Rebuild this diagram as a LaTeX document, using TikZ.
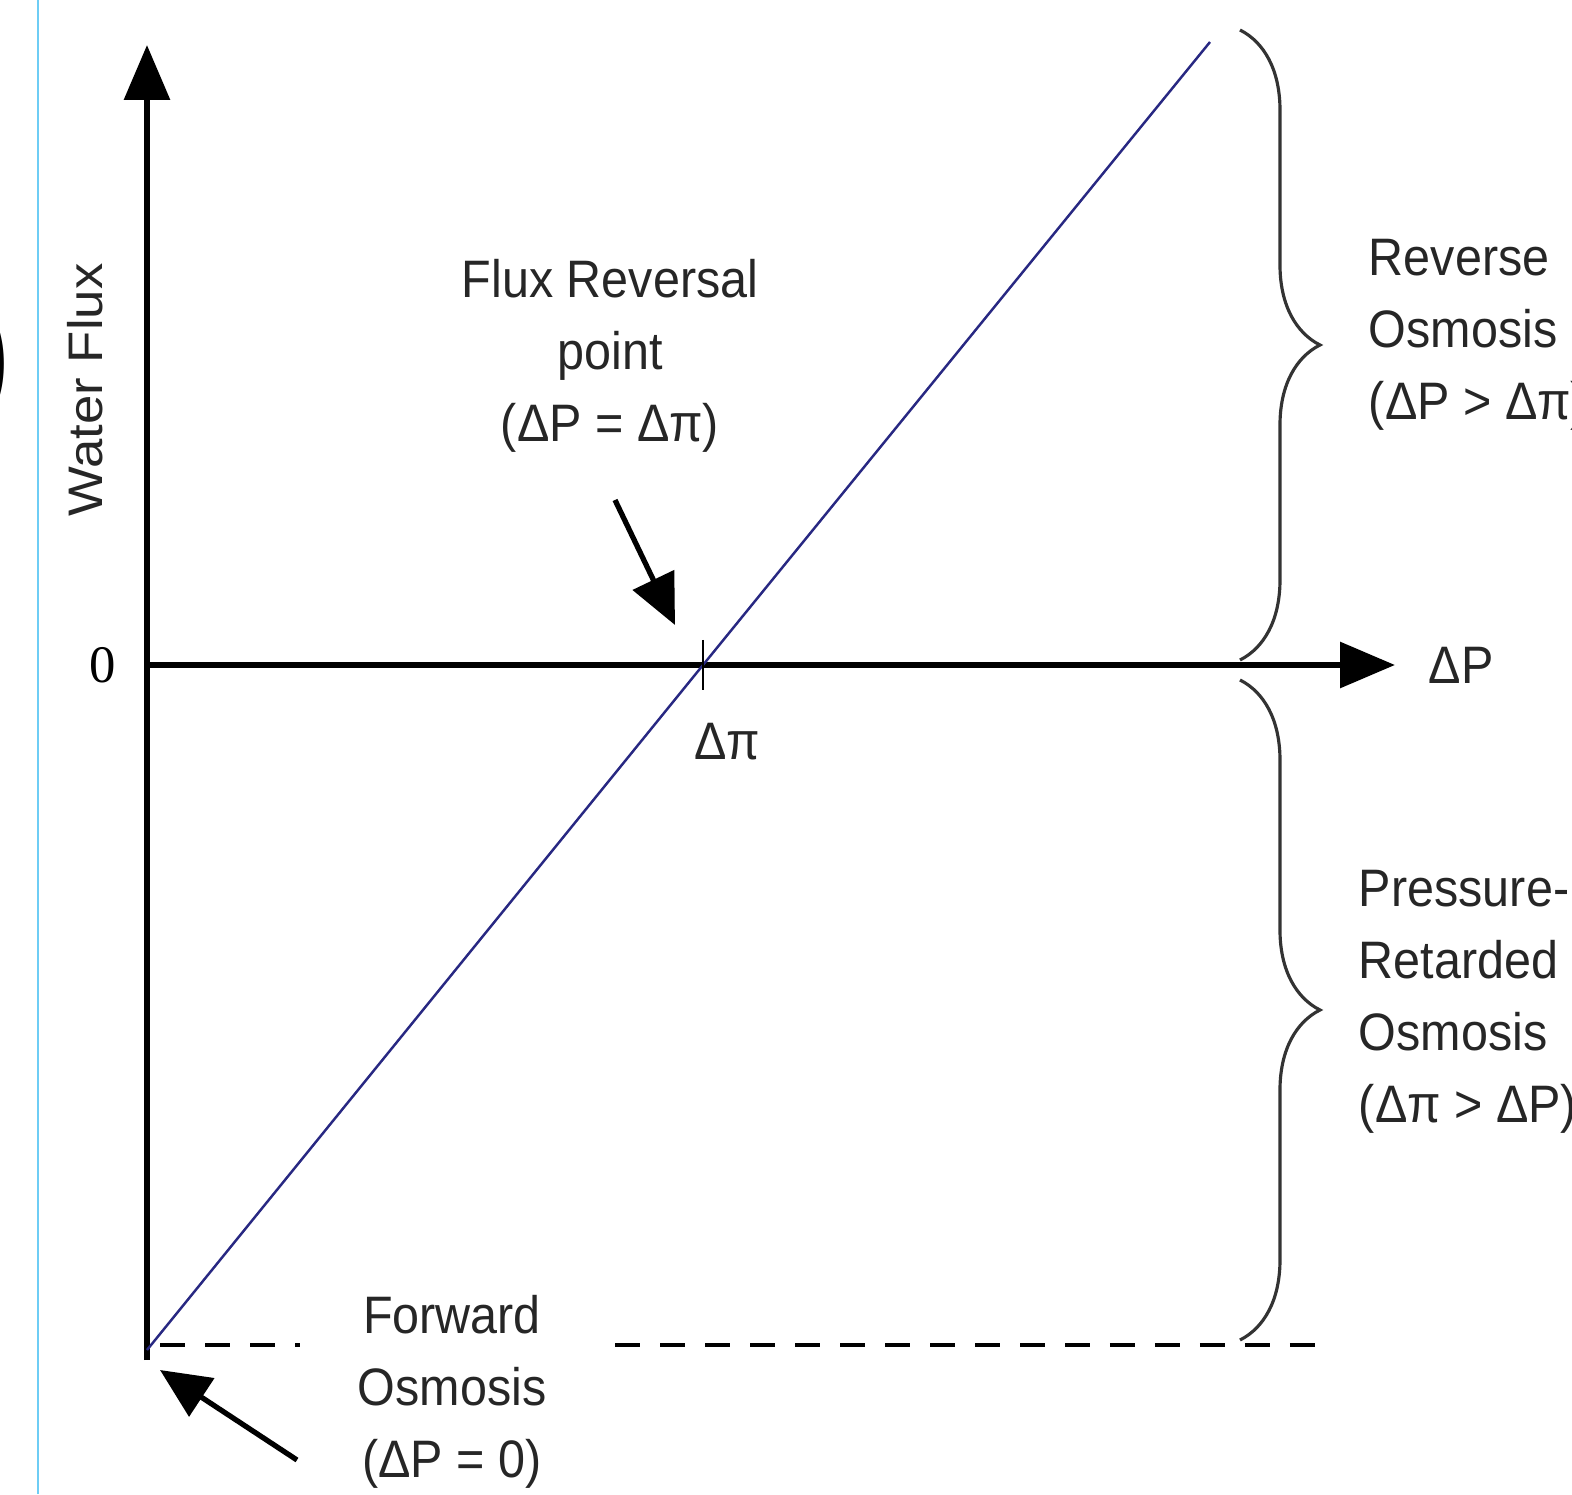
\documentclass[tikz,border=0pt]{standalone}
\usepackage{fontspec}
\setmainfont{Liberation Sans}
\newfontfamily\numfont{Liberation Serif}
\usetikzlibrary{arrows.meta,decorations.pathreplacing}
\definecolor{lineblue}{RGB}{40,40,130}
\definecolor{edgeblue}{RGB}{110,205,245}

\begin{document}
\begin{tikzpicture}[
            axis/.style = {line width=1.8pt, -{Triangle[length=0.55cm,width=0.45cm]}}, % the two axes
            pointer/.style = {line width=1.5pt, -{Triangle[length=0.5cm,width=0.45cm]}}, % the arrows onto points
            curly/.style = {decorate, decoration={brace,amplitude=0.8cm}, line width=0.9pt, draw=black!80},
            lbl/.style = {font=\fontsize{15}{20.5}\selectfont, text=black!85, inner sep=0pt, xscale=0.92},
            semithick % line style
        ]
	\useasboundingbox (0,0) rectangle (15.72,14.94);

	% frame at the left
	\draw[edgeblue, line width=0.6pt] (0.38,0) -- (0.38,14.94);
	\node[anchor=east, inner sep=0pt, font=\fontsize{40}{40}\bfseries\selectfont] (cut) at (0.12,11.3) {)};

	\coordinate (o) at (1.47,8.29);
	\coordinate (ybot) at (1.47,1.34);
	\coordinate (ytop) at (1.47,14.49);
	\coordinate (xtip) at (13.95,8.29);
	\coordinate (fo) at (1.47,1.44);
	\coordinate (rev) at (7.03,8.29);
	\coordinate (top) at (12.10,14.52);

	\draw[axis] (ybot) -- (ytop);
	\draw[axis] (ybot |- o) -- (xtip);
	\draw[lineblue, line width=0.7pt] (fo) -- (rev) -- (top);
	\draw[line width=0.7pt] ([yshift=0.25cm]rev) -- ([yshift=-0.25cm]rev);

	\node[font=\numfont\fontsize{15}{15}\selectfont] (zero) at (1.03,8.29) {0};
	\node[lbl, rotate=90] (flux) at (0.85,11.04) {Water Flux};
	\node[lbl] (dpi) at (7.27,7.52) {Δπ};
	\node[lbl, anchor=west] (dp) at (14.28,8.29) {ΔP};

	\node[lbl, align=center] (frp) at (6.10,11.38) {Flux Reversal\\point\\(ΔP = Δπ)};
	\node[lbl, align=center] (fwd) at (4.52,1.02) {Forward\\Osmosis\\(ΔP = 0)};
	\node[lbl, align=left, anchor=west] (ro) at (13.68,11.59) {Reverse\\Osmosis\\(ΔP > Δπ)};
	\node[lbl, align=left, anchor=west] (pro) at (13.58,4.92) {Pressure-\\Retarded\\Osmosis\\(Δπ > ΔP)};

	% arrows onto the two points
	\coordinate (frtail) at (6.15,9.94);
	\coordinate (frtip) at (6.75,8.69);
	\coordinate (fotail) at (2.97,0.34);
	\coordinate (fotip) at (1.60,1.24);
	\draw[pointer] (frtail) -- (frtip);
	\draw[pointer] (fotail) -- (fotip);

	% braces
	\draw[curly] (12.40,14.64) -- (12.40,8.34);
	\draw[curly] (12.40,8.14) -- (12.40,1.54);

	% forward osmosis level
	\draw[dash pattern=on 0.25cm off 0.2cm, line width=0.9pt] (1.60,1.49) -- (3.00,1.49);
	\draw[dash pattern=on 0.25cm off 0.2cm, line width=0.9pt] (6.15,1.49) -- (13.15,1.49);

\end{tikzpicture}
\end{document}
